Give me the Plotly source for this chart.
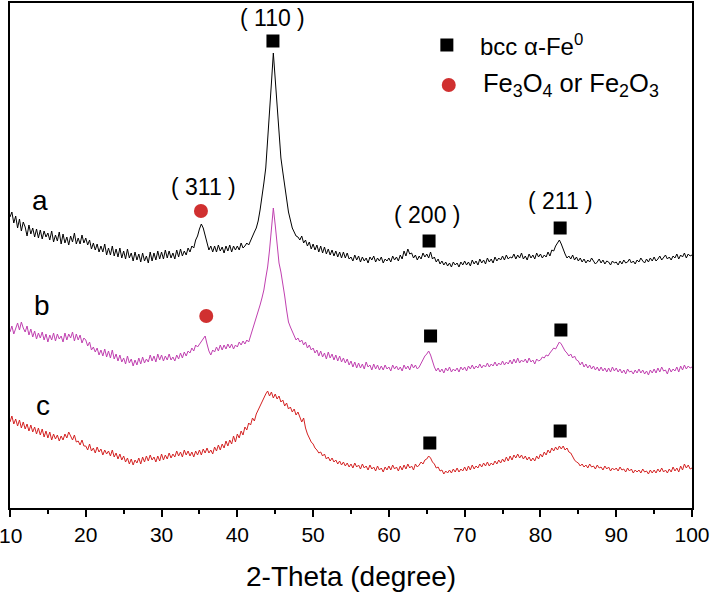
import numpy as np
import plotly.graph_objects as go

# 2-theta grid (degrees), step 0.25
two_theta = np.round(np.arange(10, 100.001, 0.25), 2)

# intensities (arbitrary units, offset per sample)
a_intensity = [
    291,296,285,292, 280,289,277,286, 281,272,283,274, 280,271,279,270, 278,269,277,271,
    275,268,277,266, 273,267,276,264, 274,265,271,263, 272,266,275,264, 270,264,273,265,
    270,263,268,259, 265,258,264,256, 262,256,264,253, 260,253,262,252, 259,251,260,250,
    257,249,259,250, 255,247,256,248, 254,246,255,247, 252,245,256,247, 255,248,257,249,
    256,249,258,250, 257,250,255,249, 258,251,259,252, 257,253,260,256, 262,260,268,272,
    279,284,280,272, 265,258,262,256, 262,256,263,257, 261,255,262,257, 263,256,262,258,
    262,258,265,260, 262,265,263,268, 272,276,280,287, 298,310,325,340, 365,395,425,455,
    428,396,370,350, 336,322,310,296, 288,280,276,272, 271,268,272,265, 268,262,266,259,
    264,258,263,256, 262,255,261,254, 259,253,258,252, 257,251,256,250, 256,250,255,249,
    251,247,253,248, 252,246,251,247, 250,245,251,248, 252,246,250,247, 251,245,249,247,
    250,246,252,248, 251,247,253,249, 257,252,259,254, 255,250,253,248, 252,249,255,251,
    254,250,256,249, 251,246,249,244, 247,243,246,242, 245,241,246,243, 245,241,246,243,
    247,243,246,242, 248,244,247,243, 249,245,248,244, 250,246,249,245, 251,247,250,248,
    252,248,253,249, 251,250,254,249, 253,250,255,249, 252,248,254,250, 253,249,255,251,
    254,250,253,251, 256,252,258,257, 262,265,268,264, 258,254,250,252, 249,253,248,251,
    247,250,246,249, 245,248,246,250, 247,244,246,249, 245,248,244,247, 246,243,247,245,
    246,243,247,244, 248,245,246,249, 245,247,244,248, 246,250,247,245, 249,246,250,247,
    251,247,249,252, 248,250,253,249, 251,248,252,250, 254,249,253,251, 255,250,254,252,
    253,
]
b_intensity = [
    176,182,174,180, 185,178,186,180, 176,182,173,179, 171,177,169,175, 170,176,168,174,
    166,173,168,175, 167,174,169,172, 166,175,168,174, 170,176,167,174, 168,173,165,170,
    168,162,166,158, 161,156,160,153, 158,152,159,151, 157,150,158,149, 154,147,153,146,
    150,144,152,145, 149,142,148,143, 150,144,151,145, 149,146,153,147, 152,146,154,148,
    153,147,152,148, 154,148,151,147, 153,149,155,150, 156,152,157,155, 160,157,163,161,
    164,167,169,172, 164,157,153,158, 156,161,157,163, 158,163,159,164, 160,164,159,163,
    161,166,163,167, 164,168,166,172, 178,183,189,196, 203,210,218,230, 241,258,276,300,
    283,262,245,236, 225,212,198,186, 181,176,172,168, 170,166,168,163, 166,160,163,158,
    160,155,158,152, 157,151,155,149, 156,150,154,148, 153,147,152,146, 150,145,149,143,
    147,141,146,140, 145,140,144,139, 146,141,143,138, 144,139,143,138, 142,138,143,139,
    141,137,143,139, 142,138,141,137, 143,139,142,138, 144,140,143,139, 141,145,148,152,
    154,157,153,146, 141,137,140,136, 139,135,140,137, 141,136,139,137, 140,136,141,138,
    141,137,142,139, 143,139,142,140, 144,140,143,141, 145,141,144,142, 146,142,145,143,
    147,143,146,144, 148,144,149,145, 150,145,148,146, 149,145,150,146, 148,144,149,147,
    148,151,150,153, 152,155,157,160, 159,163,166,164, 160,157,155,152, 154,150,152,148,
    147,143,146,141, 144,140,143,139, 142,138,141,137, 141,137,140,136, 140,136,141,137,
    140,136,139,135, 138,134,139,136, 137,134,138,135, 139,135,138,134, 137,133,138,135,
    139,135,140,136, 141,137,138,134, 140,136,139,137, 141,136,142,138, 143,139,142,140,
    141,
]
c_intensity = [
    86,92,84,89, 82,88,80,86, 79,84,77,83, 76,81,74,80, 73,79,71,77,
    70,76,68,74, 69,73,67,72, 68,74,70,76, 72,68,73,66, 67,63,68,62,
    62,58,64,57, 60,55,61,56, 59,53,58,54, 57,52,58,51, 55,49,54,48,
    52,46,50,44, 49,43,48,45, 50,44,51,46, 52,47,53,48, 51,46,52,47,
    54,48,53,49, 55,50,54,51, 57,52,56,51, 58,53,57,52, 56,51,57,53,
    58,53,59,55, 60,55,58,54, 61,57,63,58, 64,60,67,62, 68,64,72,66,
    74,70,77,73, 81,78,85,83, 90,87,94,98, 102,107,110,114, 117,112,116,110,
    114,109,112,106, 108,102,105,99, 101,96,99,93, 96,90,86,90, 80,74,70,66,
    64,60,58,55, 56,52,54,49, 51,47,50,46, 48,44,47,43, 46,42,45,41,
    44,40,45,41, 43,39,44,40, 42,38,43,39, 41,37,42,38, 40,36,41,38,
    42,38,43,39, 41,37,42,38, 43,39,44,40, 42,38,44,41, 43,46,44,48,
    49,52,50,46, 44,40,41,37, 38,34,37,35, 38,35,39,36, 40,36,39,37,
    41,37,42,38, 43,39,42,40, 44,41,45,42, 46,42,45,43, 47,44,48,45,
    49,46,51,47, 52,48,53,50, 54,50,53,49, 52,48,51,47, 50,47,52,49,
    54,51,56,53, 58,55,60,57, 61,58,62,59, 62,58,60,56, 55,51,48,46,
    45,42,44,41, 43,40,44,41, 42,39,43,40, 41,38,42,39, 41,37,40,38,
    40,37,41,38, 39,36,40,37, 39,35,38,36, 38,35,39,36, 37,34,38,35,
    38,35,39,36, 40,36,38,35, 39,36,41,37, 40,36,42,38, 44,40,43,39,
    40,
]

# phase markers (2-theta, intensity)
fe_x = [44.7, 65.3, 82.6, 65.5, 82.7, 65.4, 82.6]
fe_y = [467, 267, 280, 172, 178, 65, 77]
ox_x = [35.2, 35.9]
ox_y = [297, 192]

# reflection labels
hkl_text = ["110", "311", "200", "211"]
hkl_x = [44.7, 35.6, 65.0, 82.6]
hkl_y = [490, 321, 293, 307]

sample_text = ["a", "b", "c"]
sample_x = [13.96, 14.2, 14.35]
sample_y = [308, 203, 103]

tick_vals = list(range(10, 101, 10))
tick_text = [str(v) for v in tick_vals]

FONT = "Liberation Sans, Arial, sans-serif"

fig = go.Figure()
for ys, col in [(a_intensity, "#000000"), (b_intensity, "#c040b0"), (c_intensity, "#d42222")]:
    n = min(len(ys), len(two_theta))
    fig.add_trace(go.Scatter(x=two_theta[:n], y=ys[:n], mode="lines",
                             line=dict(color=col, width=1), showlegend=False, hoverinfo="skip"))

fig.add_trace(go.Scatter(x=fe_x, y=fe_y, mode="markers",
                         marker=dict(symbol="square", size=13, color="black"), showlegend=False))
fig.add_trace(go.Scatter(x=ox_x, y=ox_y, mode="markers",
                         marker=dict(symbol="circle", size=14, color="#d03030"), showlegend=False))
# legend symbols
fig.add_trace(go.Scatter(x=[67.65], y=[463], mode="markers",
                         marker=dict(symbol="square", size=13, color="black"), showlegend=False))
fig.add_trace(go.Scatter(x=[67.9], y=[423], mode="markers",
                         marker=dict(symbol="circle", size=14, color="#d03030"), showlegend=False))

ann = []
for t, x, y in zip(hkl_text, hkl_x, hkl_y):
    ann.append(dict(x=x, y=y, xref="x", yref="y", text=f"( {t} )", showarrow=False,
                    font=dict(size=23, color="black", family=FONT)))
for t, x, y in zip(sample_text, sample_x, sample_y):
    ann.append(dict(x=x, y=y, xref="x", yref="y", text=t, showarrow=False,
                    font=dict(size=28, color="black", family=FONT)))
ann.append(dict(x=71.7, y=463, xref="x", yref="y", xanchor="left",
                text="bcc α-Fe<sup>0</sup>", showarrow=False,
                font=dict(size=24, color="black", family=FONT)))
ann.append(dict(x=72.2, y=423, xref="x", yref="y", xanchor="left",
                text="Fe<sub>3</sub>O<sub>4</sub> or Fe<sub>2</sub>O<sub>3</sub>", showarrow=False,
                font=dict(size=25.5, color="black", family=FONT)))
ann.append(dict(x=0.5, y=0, xref="paper", yref="paper", yanchor="middle",
                yshift=-68, text="2-Theta (degree)", showarrow=False,
                font=dict(size=28, color="black", family=FONT)))
# first tick label (drawn separately so it is not dropped at the edge)
ann.append(dict(x=tick_vals[0], y=0, xref="x", yref="paper", yanchor="middle",
                yshift=-27, text=tick_text[0], showarrow=False,
                font=dict(size=21, color="black", family=FONT)))

fig.update_layout(
    width=711, height=593,
    margin=dict(l=10, r=19, t=3, b=85, autoexpand=False),
    paper_bgcolor="white", plot_bgcolor="white",
    annotations=ann,
    xaxis=dict(range=[10, 100], tickmode="array", tickvals=tick_vals, ticktext=tick_text,
               automargin=False,
               ticks="outside", ticklen=7, tickwidth=1.5, tickcolor="black",
               minor=dict(tickvals=list(range(15, 100, 10)), ticks="outside", ticklen=4,
                          tickwidth=1.5, tickcolor="black"),
               showline=True, linewidth=2, linecolor="black", mirror=True,
               showgrid=False, zeroline=False,
               tickfont=dict(size=21, color="black", family=FONT)),
    yaxis=dict(range=[0, 505], automargin=False, showline=True, linewidth=2,
               linecolor="black", mirror=True,
               showticklabels=False, ticks="", showgrid=False, zeroline=False),
)

fig.write_html("out.html", config={"displayModeBar": False},
               post_script="document.body.style.margin='0';document.body.style.overflow='hidden';")
